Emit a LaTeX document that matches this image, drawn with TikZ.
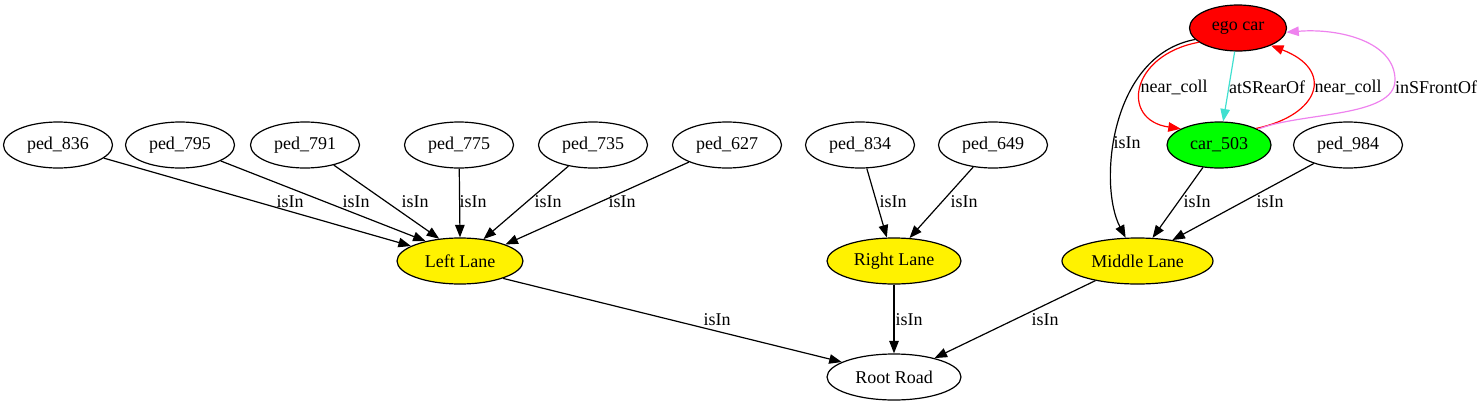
\documentclass[tikz,border=0pt]{standalone}
\usepackage{fontspec}
\setmainfont{Liberation Serif}
\usetikzlibrary{shapes.geometric,arrows.meta}
\definecolor{gvturq}{RGB}{64,224,208}
\definecolor{gvviolet}{RGB}{238,130,238}
\tikzset{
  nd/.style={ellipse, draw, line width=1.2pt, minimum height=46pt, minimum width=109pt, inner sep=0pt, font=\fontsize{18}{20}\selectfont},
  yel/.style={nd, fill=yellow},
  lbl/.style={font=\fontsize{18}{20}\selectfont, inner sep=0pt},
  ar/.style={-{Triangle[length=12.5pt,width=9.5pt]}, line width=1.2pt},
}
\begin{document}
\begin{tikzpicture}[x=1pt,y=-1pt]
\useasboundingbox (0,0) rectangle (1483,407);
% nodes
\node[nd, fill=red, minimum width=97pt] (ego) at (1238,28) {ego car};
\node[nd] (p836) at (58,145) {ped\_836};
\node[nd] (p795) at (180,145) {ped\_795};
\node[nd] (p791) at (305,145) {ped\_791};
\node[nd] (p775) at (459,145) {ped\_775};
\node[nd] (p735) at (593,145) {ped\_735};
\node[nd] (p627) at (727,145) {ped\_627};
\node[nd] (p834) at (860,145) {ped\_834};
\node[nd] (p649) at (993,145) {ped\_649};
\node[nd, fill=green, minimum width=104pt] (car) at (1219,145) {car\_503};
\node[nd] (p984) at (1348,145) {ped\_984};
\node[yel, minimum width=126pt] (LL) at (460,261) {Left Lane};
\node[yel, minimum width=134pt] (RL) at (894,261) {Right Lane};
\node[yel, minimum width=151pt] (ML) at (1137.5,261) {Middle Lane};
\node[nd, minimum width=134pt] (RR) at (894,377) {Root Road};
% edges to Left Lane
\draw[ar] (p836) -- (LL.163);
\draw[ar] (p795) -- (LL.150);
\draw[ar] (p791) -- (LL.133);
\draw[ar] (p775) -- (LL.90);
\draw[ar] (p735) -- (LL.43);
\draw[ar] (p627) -- (LL.20);
% edges to Right Lane
\draw[ar] (p834) -- (RL.107);
\draw[ar] (p649) -- (RL.56);
% edges to Middle Lane
\draw[ar] (car) -- (ML.57);
\draw[ar] (p984) -- (ML.31);
\draw[ar] (ego.195) .. controls (1110,55) and (1098,185) .. (ML.117);
% edges to Root Road
\draw[ar] (LL.-22) -- (RR.164);
\draw[ar] (RL) -- (RR);
\draw[ar] (ML.-155) -- (RR.25);
% ego car relations
\draw[ar, red] (ego.200) .. controls (1130,55) and (1120,120) .. (car.157);
\draw[ar, gvturq] (ego.262) -- (car.80);
\draw[ar, red] (car.24) .. controls (1320,115) and (1335,70) .. (ego.-28);
\draw[ar, gvviolet] (car.22) .. controls (1300,112) and (1395,118) .. (1395,80) .. controls (1395,42) and (1340,28) .. (ego.-5);
% labels
\node[lbl] (l1) at (290,202) {isIn};
\node[lbl] (l2) at (356,202) {isIn};
\node[lbl] (l3) at (415,202) {isIn};
\node[lbl] (l4) at (473,202) {isIn};
\node[lbl] (l5) at (548,202) {isIn};
\node[lbl] (l6) at (622,202) {isIn};
\node[lbl] (l7) at (893,202) {isIn};
\node[lbl] (l8) at (964,202) {isIn};
\node[lbl] (l9) at (1127,143) {isIn};
\node[lbl] (l10) at (1197,202) {isIn};
\node[lbl] (l11) at (1270,202) {isIn};
\node[lbl] (l12) at (717,320) {isIn};
\node[lbl] (l13) at (909,320) {isIn};
\node[lbl] (l14) at (1045,320) {isIn};
\node[lbl] (l15) at (1174,87) {near\_coll};
\node[lbl] (l16) at (1267,87) {atSRearOf};
\node[lbl] (l17) at (1348,87) {near\_coll};
\node[lbl] (l18) at (1436,87) {inSFrontOf};
\end{tikzpicture}
\end{document}
